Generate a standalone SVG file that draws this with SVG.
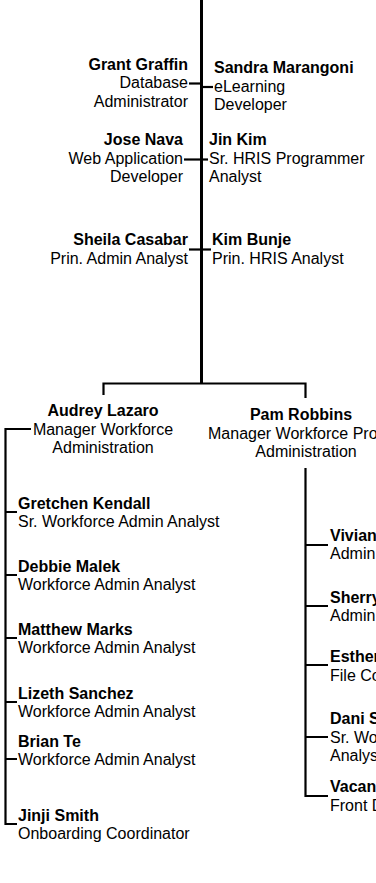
<svg xmlns="http://www.w3.org/2000/svg" width="376" height="883" viewBox="0 0 376 883">
<style>
text{font-family:"Liberation Sans",Arial,sans-serif;font-size:16px;fill:#000}
.n{font-weight:bold}
.r{text-anchor:end}
.c{text-anchor:middle}
.ln{stroke:#000;stroke-width:2.2;fill:none}
.main{stroke:#000;stroke-width:3;fill:none}
</style>
<rect width="376" height="883" fill="#fff"/>
<g id="connectors">
<path class="main" d="M201.5,0V384"/>
<path class="ln" d="M103.5,395V383.5H305.5V398"/>
<path class="ln" d="M189,83.5H201"/>
<path class="ln" d="M201,87H213"/>
<path class="ln" d="M184,159.5H208"/>
<path class="ln" d="M189,249.5H211"/>
<path class="ln" d="M31,429H5.5V824H17"/>
<path class="ln" d="M5.5,512H17M5.5,575H17M5.5,638H17M5.5,702H17M5.5,759H17"/>
<path class="ln" d="M305.5,468V796H328"/>
<path class="ln" d="M305.5,545H328M305.5,606H328M305.5,665H328M305.5,737H328"/>
</g>
<g id="grant-graffin"><text class="n r" x="188" y="69.5">Grant Graffin</text><text class="r" x="188" y="88">Database</text><text class="r" x="188" y="106.5">Administrator</text></g>
<g id="sandra-marangoni"><text class="n" x="214" y="73">Sandra Marangoni</text><text x="214" y="91.5">eLearning</text><text x="214" y="110">Developer</text></g>
<g id="jose-nava"><text class="n r" x="183" y="145">Jose Nava</text><text class="r" x="183" y="163.5">Web Application</text><text class="r" x="183" y="182">Developer</text></g>
<g id="jin-kim"><text class="n" x="209" y="145">Jin Kim</text><text x="209" y="163.5">Sr. HRIS Programmer</text><text x="209" y="182">Analyst</text></g>
<g id="sheila-casabar"><text class="n r" x="188" y="245">Sheila Casabar</text><text class="r" x="188" y="263.5">Prin. Admin Analyst</text></g>
<g id="kim-bunje"><text class="n" x="212" y="245">Kim Bunje</text><text x="212" y="263.5">Prin. HRIS Analyst</text></g>
<g id="audrey-lazaro"><text class="n c" x="103" y="416">Audrey Lazaro</text><text class="c" x="103" y="434.5">Manager Workforce</text><text class="c" x="103" y="453">Administration</text></g>
<g id="pam-robbins"><text class="n c" x="301" y="420">Pam Robbins</text><text x="208" y="438.5">Manager Workforce Pro</text><text class="c" x="306" y="457">Administration</text></g>
<g id="gretchen-kendall"><text class="n" x="18" y="509">Gretchen Kendall</text><text x="18" y="527">Sr. Workforce Admin Analyst</text></g>
<g id="debbie-malek"><text class="n" x="18" y="572">Debbie Malek</text><text x="18" y="590">Workforce Admin Analyst</text></g>
<g id="matthew-marks"><text class="n" x="18" y="635">Matthew Marks</text><text x="18" y="653">Workforce Admin Analyst</text></g>
<g id="lizeth-sanchez"><text class="n" x="18" y="699">Lizeth Sanchez</text><text x="18" y="717">Workforce Admin Analyst</text></g>
<g id="brian-te"><text class="n" x="18" y="747">Brian Te</text><text x="18" y="765">Workforce Admin Analyst</text></g>
<g id="jinji-smith"><text class="n" x="18" y="821">Jinji Smith</text><text x="18" y="839">Onboarding Coordinator</text></g>
<g id="vivian"><text class="n" x="330" y="541">Vivian</text><text x="330" y="559">Admin</text></g>
<g id="sherry"><text class="n" x="330" y="603">Sherry</text><text x="330" y="621">Admin</text></g>
<g id="esther"><text class="n" x="330" y="662">Esther</text><text x="330" y="681">File Co</text></g>
<g id="dani"><text class="n" x="330" y="724">Dani S</text><text x="330" y="743">Sr. Wo</text><text x="330" y="761">Analys</text></g>
<g id="vacant"><text class="n" x="330" y="792">Vacan</text><text x="330" y="811">Front D</text></g>
</svg>
